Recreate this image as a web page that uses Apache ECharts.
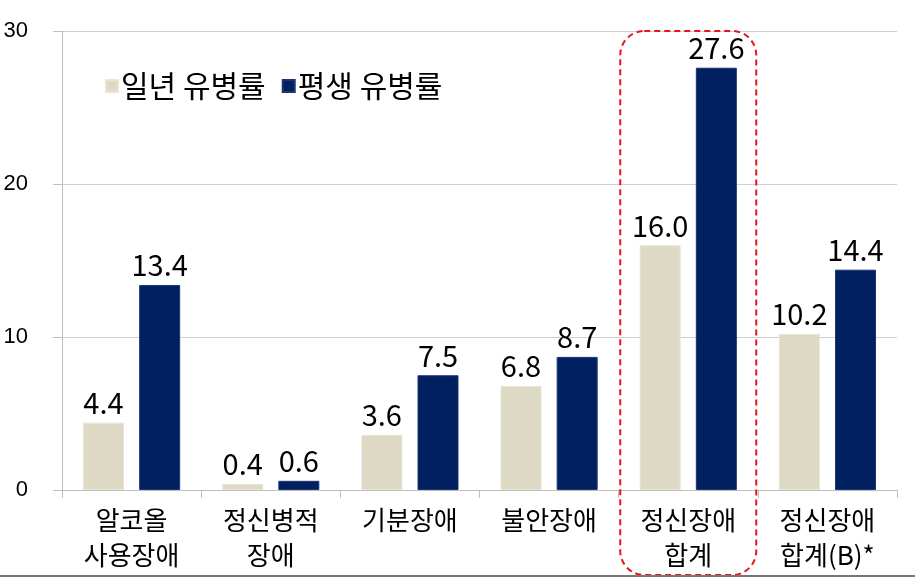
<!DOCTYPE html>
<html><head><meta charset="utf-8">
<script src="https://cdn.jsdelivr.net/npm/echarts@6/dist/echarts.min.js"></script>
<style>html,body{margin:0;padding:0;background:#fff}#c{width:915px;height:577px}</style>
</head><body><div id="c"></div>
<script>
const categories = ['알코올\n사용장애', '정신병적\n장애', '기분장애', '불안장애', '정신장애\n합계', '정신장애\n합계(B)*'];
const seriesNames = ['일년 유병률', '평생 유병률'];
const oneYear = [4.4, 0.4, 3.6, 6.8, 16.0, 10.2];
const lifetime = [13.4, 0.6, 7.5, 8.7, 27.6, 14.4];
const yTicks = [0, 10, 20, 30];
const highlightIndex = 4;

const chart = echarts.init(document.getElementById('c'), null, {renderer: 'canvas'});
const KR = '"Noto Sans CJK KR", "Noto Sans", sans-serif';
const labelStyle = {show: true, position: 'top', distance: 5, fontFamily: KR, fontSize: 29, color: '#000', formatter: p => p.value.toFixed(1)};
chart.setOption({
  animation: false,
  grid: {left: 62, right: 18, top: 31, bottom: 87},
  legend: {
    left: 100, top: 66, itemWidth: 12, itemHeight: 12, itemGap: 16,
    icon: 'rect',
    textStyle: {fontFamily: KR, fontSize: 30, color: '#000', padding: [0, 0, 0, -2]},
    data: seriesNames
  },
  xAxis: {
    type: 'category', data: categories,
    axisLine: {lineStyle: {color: '#bfbfbf', width: 1}},
    axisTick: {show: true, length: 8, lineStyle: {color: '#bfbfbf'}},
    axisLabel: {fontFamily: KR, fontSize: 26, color: '#000', lineHeight: 35, margin: 13, interval: 0}
  },
  yAxis: {
    type: 'value', min: yTicks[0], max: yTicks[yTicks.length - 1], interval: 10,
    axisLine: {show: true, lineStyle: {color: '#bfbfbf'}},
    axisTick: {show: true, length: 9, lineStyle: {color: '#bfbfbf'}},
    splitLine: {lineStyle: {color: '#d0d0d0'}},
    axisLabel: {fontFamily: '"Liberation Sans", Arial, sans-serif', fontSize: 22, color: '#000', margin: 34}
  },
  series: [
    {name: seriesNames[0], type: 'bar', data: oneYear, barWidth: 41, barGap: '37%',
     itemStyle: {color: '#ddd9c4', borderColor: '#e8e5d6', borderWidth: 1}, label: labelStyle},
    {name: seriesNames[1], type: 'bar', data: lifetime, barWidth: 41,
     itemStyle: {color: '#002060', borderColor: '#1a3570', borderWidth: 1}, label: labelStyle}
  ]
});

const cx = chart.convertToPixel({xAxisIndex: 0}, highlightIndex);
const yTop = chart.convertToPixel({yAxisIndex: 0}, yTicks[yTicks.length - 1]);
chart.setOption({
  graphic: [
    {type: 'rect', shape: {x: cx - 68, y: yTop, width: 136, height: 575 - yTop, r: 24},
     style: {fill: 'none', stroke: '#e8141c', lineWidth: 2, lineDash: [6, 4]}, z: 100},
    {type: 'line', shape: {x1: 0, y1: 576, x2: 915, y2: 576}, style: {stroke: '#777', lineWidth: 2}, z: 100}
  ]
});
</script></body></html>
